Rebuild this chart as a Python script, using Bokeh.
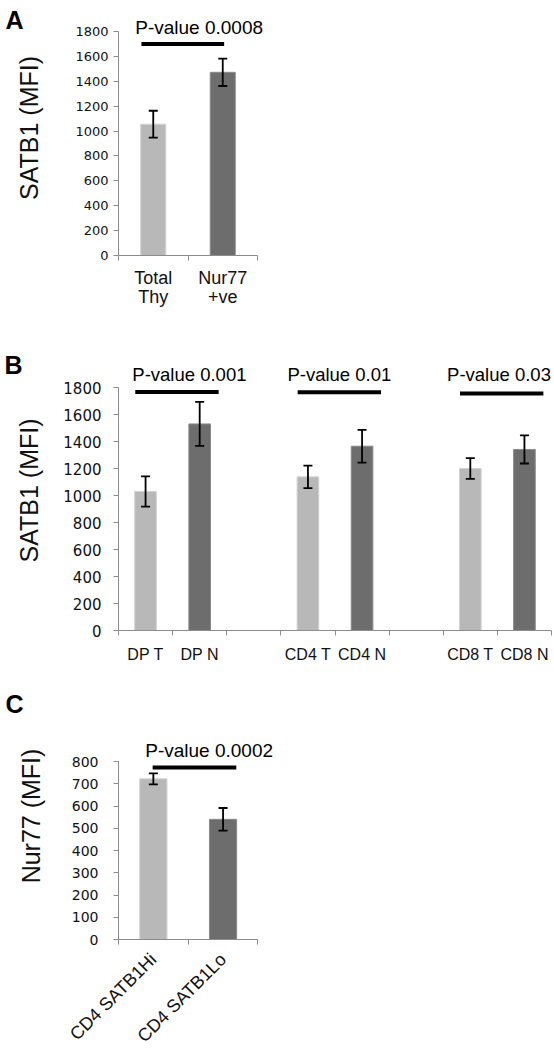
import math
from bokeh.plotting import figure
from bokeh.models import (Range1d, FixedTicker, ColumnDataSource, Whisker, TeeHead,
                          Label, LinearAxis)
from bokeh.layouts import column
from bokeh.embed import file_html
from bokeh.resources import INLINE

# ---------------- data ----------------
A_labels = ["Total\nThy", "Nur77\n+ve"]
A_values = [1055, 1472]
A_errors = [108, 110]
A_ptext = ["P-value 0.0008"]
A_bracket_y = [1700]

B_labels = ["DP T", "DP N", "", "CD4 T", "CD4 N", "", "CD8 T", "CD8 N"]
B_values = [1030, 1530, None, 1138, 1365, None, 1200, 1341]
B_errors = [112, 163, None, 83, 121, None, 77, 104]
B_ptext = ["P-value 0.001", "P-value 0.01", "P-value 0.03"]
B_bracket_y = [1767, 1765, 1755]

C_labels = ["CD4 SATB1Hi", "CD4 SATB1Lo"]
C_values = [722, 540]
C_errors = [25, 51]
C_ptext = ["P-value 0.0002"]
C_bracket_y = [773]

LIGHT = "#b8b8b8"
DARK = "#6d6d6d"
LIGHT_EDGE = "#d2d2d2"
DARK_EDGE = "#8a8a8a"
AXIS = "#8c8c8c"
FONT = "Liberation Sans"
TICKFONT = "DejaVu Sans"


class Panel:
    """Figure whose frame extends above the value axis so annotations fit inside."""

    def __init__(self, labels, values, errors, ymax, ystep, ylabel, letter,
                 cat_px, val_px, extra_top, extra_right, bl, bt, bb,
                 bar_w, cap, tick_size, cat_size, ylab_standoff, ytick_standoff,
                 xlab_standoff, letter_standoff, letter_page_dy, orient=None,
                 line_height=0.95, letter_line_height=1.2):
        n = len(labels)
        self.n = n
        self.ymax = ymax
        self.pxu_x = cat_px
        self.pxu_y = val_px / ymax
        fw = int(round(n * cat_px + extra_right))
        fh = int(round(val_px + extra_top))
        x_end = fw / cat_px
        y_end = fh / self.pxu_y
        p = figure(frame_width=fw, frame_height=fh,
                   x_range=Range1d(0, x_end), y_range=Range1d(0, y_end),
                   output_backend="svg", toolbar_location=None,
                   min_border_left=bl, min_border_top=bt,
                   min_border_bottom=bb, min_border_right=0)
        p.outline_line_color = None
        p.xgrid.visible = False
        p.ygrid.visible = False
        self.p = p

        xs, tops, lows, ups, fills, edges = [], [], [], [], [], []
        k = 0
        for i, (v, e) in enumerate(zip(values, errors)):
            if v is None:
                continue
            xs.append(i + 0.5)
            tops.append(v)
            lows.append(v - e)
            ups.append(v + e)
            fills.append(LIGHT if k % 2 == 0 else DARK)
            edges.append(LIGHT_EDGE if k % 2 == 0 else DARK_EDGE)
            k += 1
        src = ColumnDataSource(dict(x=xs, top=tops, lower=lows, upper=ups,
                                    fill=fills, edge=edges))
        p.vbar(x="x", top="top", width=bar_w, source=src,
               fill_color="fill", line_color="edge", line_width=1)
        w = Whisker(source=src, base="x", upper="upper", lower="lower",
                    line_color="black", line_width=1.8, level="annotation",
                    upper_head=TeeHead(size=cap, line_width=1.8, line_color="black"),
                    lower_head=TeeHead(size=cap, line_width=1.8, line_color="black"))
        p.add_layout(w)

        # value axis
        ya = p.yaxis[0]
        ya.bounds = (0, ymax)
        ya.ticker = FixedTicker(ticks=list(range(0, ymax + 1, ystep)), minor_ticks=[])
        ya.axis_line_color = AXIS
        ya.major_tick_line_color = AXIS
        ya.major_tick_out = 5
        ya.major_tick_in = 0
        ya.major_label_text_font = TICKFONT
        ya.major_label_text_font_size = f"{tick_size}px"
        ya.major_label_text_color = "#111111"
        ya.major_label_standoff = ytick_standoff
        ya.axis_label = ylabel
        ya.axis_label_text_font = FONT
        ya.axis_label_text_font_size = "25px"
        ya.axis_label_text_font_style = "normal"
        ya.axis_label_text_color = "#111111"
        ya.axis_label_standoff = ylab_standoff

        # category axis: labels at centres, tick marks at boundaries
        xa = p.xaxis[0]
        xa.bounds = (0, n)
        centers = [i + 0.5 for i in range(n)]
        xa.ticker = FixedTicker(ticks=centers, minor_ticks=list(range(n + 1)))
        xa.major_label_overrides = {c: lab for c, lab in zip(centers, labels)}
        xa.axis_line_color = AXIS
        xa.major_tick_line_color = None
        xa.major_tick_out = 0
        xa.major_tick_in = 0
        xa.minor_tick_line_color = AXIS
        xa.minor_tick_out = 5
        xa.minor_tick_in = 0
        xa.major_label_text_font = FONT
        xa.major_label_text_font_size = f"{cat_size}px"
        xa.major_label_text_color = "#111111"
        xa.major_label_text_line_height = line_height
        xa.major_label_standoff = xlab_standoff
        if orient is not None:
            xa.major_label_orientation = orient

        # panel letter as an outer left axis with a single labelled tick
        y_letter = y_end - letter_page_dy / self.pxu_y
        la = LinearAxis(ticker=FixedTicker(ticks=[y_letter], minor_ticks=[]),
                        major_label_overrides={y_letter: letter},
                        axis_line_color=None, major_tick_line_color=None,
                        minor_tick_line_color=None, major_tick_out=0, major_tick_in=0,
                        major_label_text_font=FONT, major_label_text_font_size="25px",
                        major_label_text_font_style="bold",
                        major_label_text_color="black",
                        major_label_text_line_height=letter_line_height,
                        major_label_standoff=letter_standoff)
        p.add_layout(la, "left")

    def bracket(self, x0, x1, y):
        self.p.segment(x0=x0, y0=y, x1=x1, y1=y, line_color="black", line_width=4)

    def ptext(self, text, xc, ybase, size="19px"):
        self.p.add_layout(Label(x=xc, y=ybase, text=text, text_font=FONT,
                                text_font_size=size, text_align="center",
                                text_baseline="alphabetic", text_color="black"))


# ---------------- panel A ----------------
A = Panel(A_labels, A_values, A_errors, 1800, 200, "SATB1 (MFI)", "A",
          cat_px=69.5, val_px=224, extra_top=31, extra_right=14,
          bl=117, bt=0, bb=85, bar_w=0.36, cap=9, tick_size=13, cat_size=18,
          ylab_standoff=29, ytick_standoff=5, xlab_standoff=7,
          letter_standoff=-11, letter_page_dy=9, letter_line_height=0.7)
A.bracket([0.33], [1.52], A_bracket_y)
A.ptext(A_ptext[0], 1.16, 1836)

# ---------------- panel B ----------------
B = Panel(B_labels, B_values, B_errors, 1800, 200, "SATB1 (MFI)", "B",
          cat_px=54.125, val_px=243, extra_top=37, extra_right=3,
          bl=118, bt=10, bb=55, bar_w=0.40, cap=9, tick_size=15, cat_size=16,
          ylab_standoff=17, ytick_standoff=12, xlab_standoff=10,
          letter_standoff=-10, letter_page_dy=14)
b_starts = [0, 3, 6]
B.bracket([s + 0.31 for s in b_starts], [s + 1.85 for s in b_starts], B_bracket_y)
for s, t, dx in zip(b_starts, B_ptext, [1.31, 1.08, 1.03]):
    B.ptext(t, s + dx, 1895, size="18.5px")

# ---------------- panel C ----------------
C = Panel(C_labels, C_values, C_errors, 800, 100, "Nur77 (MFI)", "C",
          cat_px=69.7, val_px=178, extra_top=69, extra_right=24,
          bl=117, bt=7, bb=108, bar_w=0.39, cap=9, tick_size=14, cat_size=18,
          ylab_standoff=24, ytick_standoff=15, xlab_standoff=12,
          letter_standoff=-10, letter_page_dy=11, orient=math.pi / 4)
C.bracket([0.49], [1.69], C_bracket_y)
C.ptext(C_ptext[0], 1.30, 851)

layout = column(A.p, B.p, C.p, spacing=0)
open("out.html", "w").write(file_html(layout, INLINE))
